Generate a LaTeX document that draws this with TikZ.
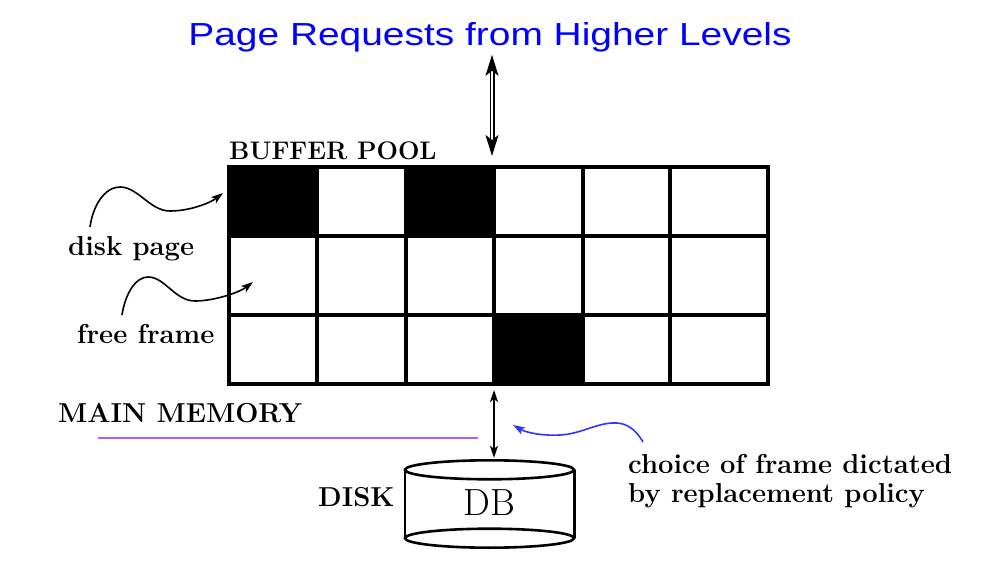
\documentclass[tikz,border=0pt]{standalone}
\usepackage{fontspec}
\newfontfamily\headfont{Liberation Sans}
\usetikzlibrary{arrows.meta,calc}

\definecolor{memline}{RGB}{176,96,240}
\definecolor{pickblue}{RGB}{51,51,255}

\begin{document}
\begin{tikzpicture}[x=1bp,y=-1bp]
            \useasboundingbox (0,0) rectangle (982,565);
            \tikzset{tag/.style = {font=\fontsize{27.5}{29}\selectfont\bfseries, inner sep=0pt}}
            \tikzset{heading/.style = {anchor=base, inner sep=0pt, text=blue, font=\headfont\fontsize{32}{36}\selectfont}}
            \tikzset{pool/.style = {draw, line width=3.2bp, minimum width=539bp, minimum height=217bp, inner sep=0pt, outer sep=0pt}}
            \tikzset{poolline/.style = {line width=3.2bp}}
            \tikzset{cyl/.style = {line width=2.6bp}}
            \tikzset{edge/.style = {{Stealth[length=12bp,width=8bp,inset=3bp]}-{Stealth[length=12bp,width=8bp,inset=3bp]}, line width=1.8bp}}
            \tikzset{twoway/.style = {{Stealth[length=21bp,width=13bp,inset=5bp]}-{Stealth[length=21bp,width=13bp,inset=5bp]}, double, double distance=2.2bp, line width=1.4bp}}
            \tikzset{curly/.style = {-{Stealth[length=12bp,width=8bp,inset=3bp]}, line width=1.6bp}}

            % title and labels
            \node[heading] (title) at (490,46) {\scalebox{1.22}[1]{Page Requests from Higher Levels}};
            \node[tag, font=\fontsize{25.5}{29}\selectfont\bfseries, anchor=base west] (bufferlbl) at (229,160) {BUFFER POOL};
            \node[tag, anchor=base west] (pagelbl) at (68,256) {disk page};
            \node[tag, anchor=base west] (freelbl) at (77,343) {free frame};
            \node[tag, anchor=base west] (memlbl) at (58,422) {MAIN MEMORY};
            \node[tag, anchor=base west] (disklbl) at (318,506) {DISK};
            \node[tag, anchor=west, align=left] (picklbl) at (628,481) {choice of frame dictated\\by replacement policy};

            % buffer pool
            \foreach \a/\b/\c/\d in {229/167/317/236, 406/167/494/236, 494/315/583/384}
                \fill (\a,\b) rectangle (\c,\d);
            \foreach \x in {317,406,494,583,670}
                \draw[poolline] (\x,167) -- (\x,384);
            \foreach \y in {236,315}
                \draw[poolline] (229,\y) -- (768,\y);
            \node[pool] (pool) at (498.5,275.5) {};

            % disk
            \node[font=\fontsize{38}{40}\selectfont, minimum width=169bp, minimum height=68bp, inner sep=0pt] (disk) at (489.5,504) {\raisebox{3bp}{DB}};
            \draw[cyl] (disk.north) ellipse [x radius=84.5, y radius=9.5];
            \draw[cyl] (disk.south) ellipse [x radius=84.5, y radius=9.5];
            \draw[cyl] (disk.north west) -- (disk.south west) (disk.north east) -- (disk.south east);

            \draw[memline, line width=1.6bp] (98,438) -- (478,438);

            \draw[twoway] ($(title.south)+(2,2)$) -- ($(pool.north)+(-6.5,-11)$);
            \draw[edge] ($(pool.south)+(-4.5,6)$) -- ($(disk.north)+(4.5,-12)$);

            % pointers
            \coordinate (pagefrom) at (90,227);
            \coordinate (pageto) at (223,193);
            \coordinate (freefrom) at (122,315);
            \coordinate (freeto) at (253,282);
            \coordinate (pickfrom) at (643,442);
            \coordinate (pickto) at (513,425);
            \draw[curly] (pagefrom) .. controls (93,205) and (105,187) .. (120,187) .. controls (138,187) and (150,211) .. (170,211) .. controls (190,211) and (210,203) .. (pageto);
            \draw[curly] (freefrom) .. controls (125,295) and (135,277) .. (148,277) .. controls (165,277) and (175,301) .. (195,301) .. controls (215,301) and (240,292) .. (freeto);
            \draw[curly, pickblue] (pickfrom) .. controls (635,428) and (625,422) .. (612,423) .. controls (595,424) and (580,434) .. (560,435) .. controls (540,436) and (525,432) .. (pickto);
        \end{tikzpicture}
\end{document}
